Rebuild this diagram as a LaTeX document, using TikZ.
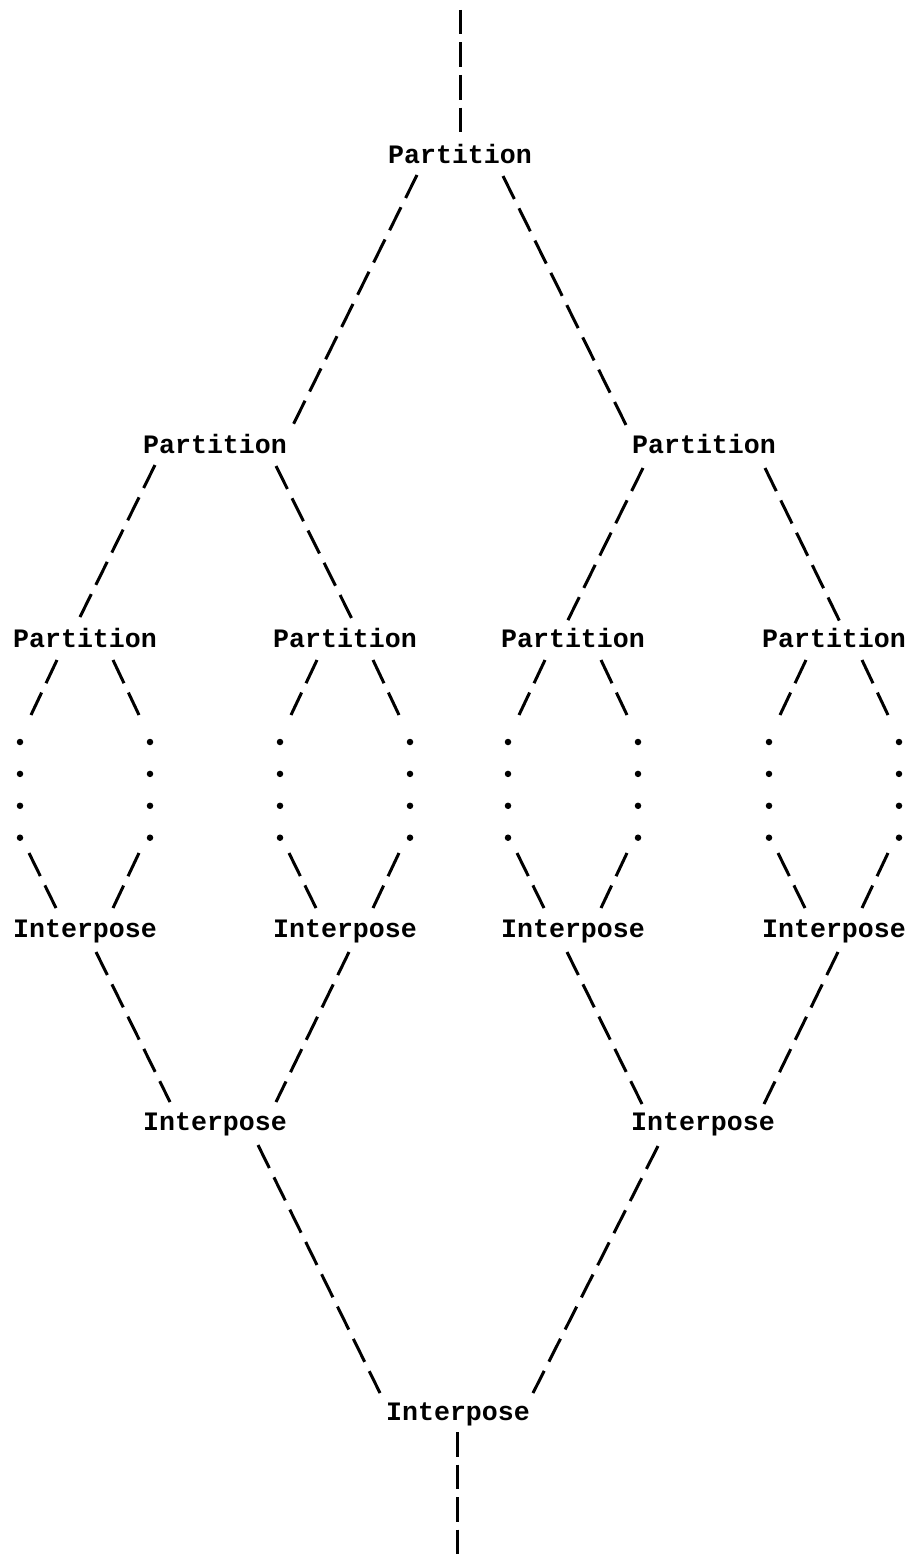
\documentclass[tikz,border=0pt]{standalone}
\usepackage{fontspec}
\setmonofont{Liberation Mono}
\usetikzlibrary{calc}
\begin{document}
\begin{tikzpicture}[x=1pt,y=-1pt,
  op/.style={font=\ttfamily\bfseries\fontsize{26.6}{30}\selectfont, inner sep=0pt, anchor=base},
  slash/.style={line width=3pt, dash pattern=on 25.7pt off 10.3pt},
  bar/.style={line width=3pt, dash pattern=on 24.5pt off 8pt},
  dotcol/.style={line width=6.5pt, line cap=round, dash pattern=on 0pt off 31.9pt}]

\fill[white] (0,0) rectangle (911,1555);
\useasboundingbox (0,0) rectangle (911,1555);

% splitting half
\node[op] (pa) at (460,163) {Partition};
\node[op] (pb) at (215,453) {Partition};
\node[op] (pc) at (704,453) {Partition};
\node[op] (pd) at (85,647) {Partition};
\node[op] (pe) at (345,647) {Partition};
\node[op] (pf) at (573,647) {Partition};
\node[op] (pg) at (834,647) {Partition};

% merging half
\node[op] (ia) at (85,937) {Interpose};
\node[op] (ib) at (345,937) {Interpose};
\node[op] (ic) at (573,937) {Interpose};
\node[op] (id) at (834,937) {Interpose};
\node[op] (ie) at (215,1130) {Interpose};
\node[op] (if) at (703,1130) {Interpose};
\node[op] (ig) at (458,1420) {Interpose};

% stream in and out
\coordinate (in)  at (460,10);
\coordinate (out) at (457,1555);
\draw[bar] (in) -- ($(pa.base)+(0,-30)$);
\draw[bar] ($(ig.base)+(-1,12)$) -- (out);

% partition tree
\draw[slash] ($(pa.base)+(-43,12)$) -- ($(pb.base)+(78,-28)$);
\draw[slash] ($(pa.base)+(43,13)$)  -- ($(pc.base)+(-77,-26)$);
\draw[slash] ($(pb.base)+(-60,12)$) -- ($(pd.base)+(-5,-30)$);
\draw[slash] ($(pb.base)+(61,13)$)  -- ($(pe.base)+(7,-28)$);
\draw[slash] ($(pc.base)+(-61,15)$) -- ($(pf.base)+(-6,-25)$);
\draw[slash] ($(pc.base)+(61,15)$)  -- ($(pg.base)+(6,-25)$);

% each leaf partition runs on (dots) into its interpose
\foreach \p/\i in {pd/ia, pe/ib, pf/ic, pg/id}{
  \draw[slash] ($(\p.base)+(-28,13)$) -- ($(\p.base)+(-54,68)$);
  \draw[slash] ($(\p.base)+(28,13)$)  -- ($(\p.base)+(54,68)$);
  \draw[dotcol] ($(\p.base)+(-65,95)$) -- ($(\p.base)+(-65,191)$);
  \draw[dotcol] ($(\p.base)+(65,95)$)  -- ($(\p.base)+(65,191)$);
  \draw[slash] ($(\i.base)+(-56,-84)$) -- ($(\i.base)+(-29,-29)$);
  \draw[slash] ($(\i.base)+(54,-84)$)  -- ($(\i.base)+(28,-29)$);
}

% interpose tree
\draw[slash] ($(ia.base)+(11,15)$) -- ($(ie.base)+(-45,-28)$);
\draw[slash] ($(ib.base)+(4,15)$)  -- ($(ie.base)+(61,-28)$);
\draw[slash] ($(ic.base)+(-6,15)$) -- ($(if.base)+(-61,-26)$);
\draw[slash] ($(id.base)+(4,15)$)  -- ($(if.base)+(61,-26)$);
\draw[slash] ($(ie.base)+(43,15)$) -- ($(ig.base)+(-78,-27)$);
\draw[slash] ($(if.base)+(-45,16)$) -- ($(ig.base)+(75,-27)$);
\end{tikzpicture}
\end{document}
